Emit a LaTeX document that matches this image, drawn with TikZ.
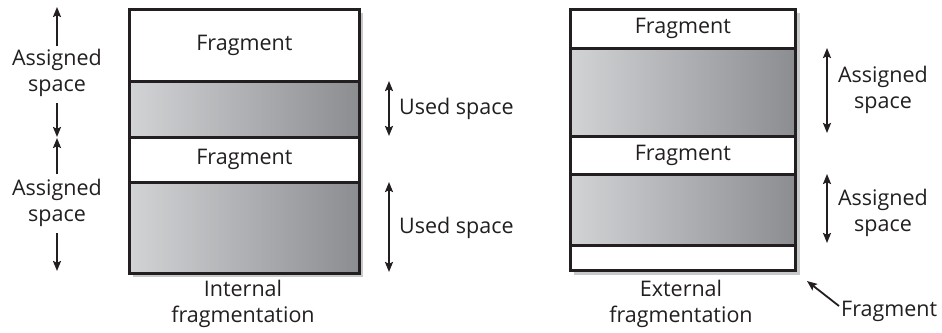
\documentclass[tikz,border=0pt]{standalone}
\usepackage{fontspec}
\setmainfont{Open Sans}
\usetikzlibrary{arrows.meta}
\definecolor{shadowgray}{HTML}{C8C9CB}
\definecolor{lightg}{HTML}{D2D3D5}
\definecolor{darkg}{HTML}{8C8D91}
\definecolor{ink}{HTML}{231F20}
\tikzset{
  band/.style={draw=ink, line width=2.8pt, anchor=north west, inner sep=0pt, font=\fontsize{21.5}{26}\selectfont, text=ink},
  fragband/.style={band, fill=white},
  usedband/.style={band, left color=lightg, right color=darkg},
  lbl/.style={align=center, inner sep=0pt, font=\fontsize{21.5}{26.5}\selectfont, text=ink},
  arr/.style={draw=ink, line width=1.8pt, -{Stealth[length=10pt,width=8pt,inset=1.8pt]}},
  darr/.style={draw=ink, line width=1.8pt, {Stealth[length=10pt,width=8pt,inset=1.8pt]}-{Stealth[length=10pt,width=8pt,inset=1.8pt]}},
}
\begin{document}
\begin{tikzpicture}[x=1pt,y=-1pt]
\useasboundingbox (0,0) rectangle (942,332);
% ---------- left: internal fragmentation ----------
\fill[shadowgray] (133,13) rectangle (363,277);
\node[fragband, minimum width=230pt, minimum height=72pt] (lf1) at (128,8) {Fragment};
\node[usedband, minimum width=230pt, minimum height=56pt] (lu1) at (128,80) {};
\node[fragband, minimum width=230pt, minimum height=45pt] (lf2) at (128,136) {Fragment};
\node[usedband, minimum width=230pt, minimum height=91pt] (lu2) at (128,181) {};
\node[lbl] (intl) at (243,304) {Internal\\fragmentation};
% left-side assigned arrows
\node[lbl] (as1) at (57,73) {Assigned\\space};
\node[lbl] (as2) at (57,203) {Assigned\\space};
\coordinate (a1t) at (57,7);
\coordinate (a1n) at (57,46);
\coordinate (a1s) at (57,103);
\coordinate (a1b) at (57,137);
\coordinate (a2t) at (57,138);
\coordinate (a2n) at (57,174);
\coordinate (a2s) at (57,233);
\coordinate (a2b) at (57,271);
\draw[arr] (a1n) -- (a1t);
\draw[arr] (a1s) -- (a1b);
\draw[arr] (a2n) -- (a2t);
\draw[arr] (a2s) -- (a2b);
% right-side used arrows
\coordinate (u1t) at (389,81);
\coordinate (u1b) at (389,136);
\coordinate (u2t) at (389,182);
\coordinate (u2b) at (389,272);
\draw[darr] (u1t) -- (u1b);
\draw[darr] (u2t) -- (u2b);
\node[lbl, anchor=west] (us1) at (399,109) {Used space};
\node[lbl, anchor=west] (us2) at (399,228) {Used space};
% ---------- right: external fragmentation ----------
\fill[shadowgray] (574,13) rectangle (800,275);
\node[fragband, minimum width=225pt, minimum height=39pt] (rf1) at (569,8) {Fragment};
\node[usedband, minimum width=225pt, minimum height=88pt] (ru1) at (569,47) {};
\node[fragband, minimum width=225pt, minimum height=38pt] (rf2) at (569,135) {Fragment};
\node[usedband, minimum width=225pt, minimum height=71pt] (ru2) at (569,173) {};
\node[fragband, minimum width=225pt, minimum height=25pt] (rf3) at (569,244) {};
\node[lbl] (extl) at (681,304) {External\\fragmentation};
\coordinate (r1t) at (827,48);
\coordinate (r1b) at (827,133);
\coordinate (r2t) at (827,174);
\coordinate (r2b) at (827,243);
\draw[darr] (r1t) -- (r1b);
\draw[darr] (r2t) -- (r2b);
\node[lbl] (ras1) at (883,90) {Assigned\\space};
\node[lbl] (ras2) at (883,213) {Assigned\\space};
\node[lbl, anchor=west] (ffrag) at (841,311) {Fragment};
\coordinate (ffs) at (839,306);
\coordinate (fft) at (807,281);
\draw[arr] (ffs) -- (fft);
\end{tikzpicture}
\end{document}
